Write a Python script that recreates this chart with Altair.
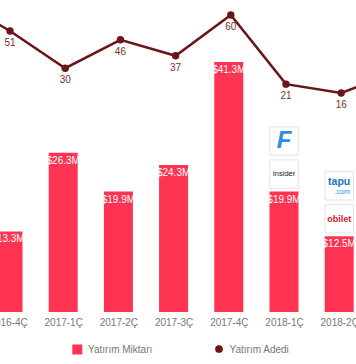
import json
import altair as alt
import pandas as pd

# ---- data ----
categories = ["2016-4Ç", "2017-1Ç", "2017-2Ç", "2017-3Ç", "2017-4Ç", "2018-1Ç", "2018-2Ç"]
amounts = [13.3, 26.3, 19.9, 24.3, 41.3, 19.9, 12.5]          # Yatırım Miktarı ($M)
amount_labels = ["$13.3M", "$26.3M", "$19.9M", "$24.3M", "$41.3M", "$19.9M", "$12.5M"]
counts = [51, 30, 46, 37, 60, 21, 16]                          # Yatırım Adedi
# neighbours outside the visible crop (line continues off-screen)
count_prev = 69   # 2016-3Ç
count_next = 28   # 2018-3Ç

logo_names = ["flo", "insider", "tapu", "obilet"]
logo_cats = [5, 5, 6, 6]
logo_levels = [1, 0, 1, 0]

legend_labels = ["Yatırım Miktarı", "Yatırım Adedi"]

BAR = "#fe3452"
LINE = "#6b1519"
LBL = "#7d2b2b"
GRAY = "#777777"
FONT = "Liberation Sans"

bars = pd.DataFrame({"idx": list(range(len(categories))), "cat": categories,
                     "amount": amounts, "label": amount_labels})
line_idx = [-1] + list(range(len(counts))) + [len(counts)]
line_val = [count_prev] + counts + [count_next]
line = pd.DataFrame({"idx": line_idx, "count": line_val})
line_lbl = pd.DataFrame({"idx": list(range(len(counts))), "count": counts})
logos = pd.DataFrame({"name": logo_names, "idx": logo_cats, "level": logo_levels,
                      "amount": [amounts[c] for c in logo_cats]})

xs = alt.Scale(domain=[0, 6], range=[8, 339.2], nice=False, zero=False, padding=0)
ybar = alt.Scale(domain=[0, 41.3], range=[312, 62], nice=False, zero=False)
yline = alt.Scale(domain=[16, 60], range=[93, 15], nice=False, zero=False)

xaxis = alt.Axis(values=list(range(len(categories))),
                 labelExpr=json.dumps(categories) + "[datum.value]",
                 labelFlush=False, labelOverlap=False, ticks=False, domain=False,
                 grid=False, title=None, labelColor=GRAY, labelFontSize=10,
                 labelPadding=5, labelFont=FONT)

X = alt.X("idx:Q", scale=xs, axis=xaxis)

bar_layer = alt.Chart(bars).mark_bar(size=29, color=BAR, clip=True).encode(
    x=X, y=alt.Y("amount:Q", scale=ybar, axis=None))
bar_text = alt.Chart(bars).mark_text(color="white", fontSize=10, baseline="top", dy=3,
                                     font=FONT, clip=True).encode(
    x=X, y=alt.Y("amount:Q", scale=ybar, axis=None), text="label:N")

logo_layers = []
for lvl in [0, 1]:
    off = -(17.5 + 33 * lvl)
    logo_layers.append(
        alt.Chart(logos).transform_filter(alt.datum.level == lvl).mark_square(
            size=800, filled=True, fill="white", stroke="#e2e2e2", strokeWidth=1,
            opacity=1, yOffset=off).encode(
            x=X, y=alt.Y("amount:Q", scale=ybar, axis=None)))

pieces = [
    # name, text, color, size, weight, style, dx, dy
    ("flo", "F", "#2b8fe3", 24, "bold", "italic", 0, 0),
    ("insider", "Insider", "#222222", 7.5, "normal", "normal", 0, 0),
    ("tapu", "tapu", "#1d6fc2", 10.5, "bold", "normal", 0, -4),
    ("tapu", ".com", "#2a8fe0", 7, "normal", "normal", 3, 6),
    ("obilet", "obilet", "#d4202c", 9, "bold", "normal", 0, 0),
]
for name, txt, col, fs, fw, fst, dx, dy in pieces:
    lvl = logo_levels[logo_names.index(name)]
    off = -(17.5 + 33 * lvl)
    logo_layers.append(
        alt.Chart(logos).transform_filter(alt.datum.name == name).mark_text(
            text=txt, color=col, fontSize=fs, fontWeight=fw, fontStyle=fst,
            font=FONT, dx=dx, dy=dy, yOffset=off, baseline="middle").encode(
            x=X, y=alt.Y("amount:Q", scale=ybar, axis=None)))

bar_group = alt.layer(bar_layer, bar_text, *logo_layers)

line_layer = alt.Chart(line).mark_line(color=LINE, strokeWidth=2.5, clip=True, xOffset=2).encode(
    x=X, y=alt.Y("count:Q", scale=yline, axis=None))
pt_layer = alt.Chart(line).mark_circle(color=LINE, size=55, opacity=1, clip=True, xOffset=2).encode(
    x=X, y=alt.Y("count:Q", scale=yline, axis=None))
pt_text = alt.Chart(line_lbl).mark_text(color=LBL, fontSize=10, font=FONT, dy=12,
                                        xOffset=2, clip=True).encode(
    x=X, y=alt.Y("count:Q", scale=yline, axis=None), text="count:Q")
line_group = alt.layer(line_layer, pt_layer, pt_text)

one = pd.DataFrame({"a": [0]})
leg = alt.layer(
    alt.Chart(one).mark_square(size=100, color=BAR, opacity=1).encode(
        x=alt.value(77.3), y=alt.value(349.5)),
    alt.Chart(one).mark_text(text=legend_labels[0], align="left", baseline="middle",
                             fontSize=10, color=GRAY, font=FONT).encode(
        x=alt.value(88), y=alt.value(349.5)),
    alt.Chart(one).mark_circle(size=60, color=LINE, opacity=1).encode(
        x=alt.value(219), y=alt.value(349)),
    alt.Chart(one).mark_text(text=legend_labels[1], align="left", baseline="middle",
                             fontSize=10, color=GRAY, font=FONT).encode(
        x=alt.value(229.5), y=alt.value(349.5)),
)

chart = alt.layer(bar_group, line_group, leg).resolve_scale(y="independent").properties(
    width=356, height=312,
    autosize=alt.AutoSizeParams(type="none"),
    padding={"left": 0, "top": 0, "right": 0, "bottom": 52},
    background="white",
).configure_view(stroke=None)

chart.save("out.html", embed_options={"renderer": "svg", "actions": False})
